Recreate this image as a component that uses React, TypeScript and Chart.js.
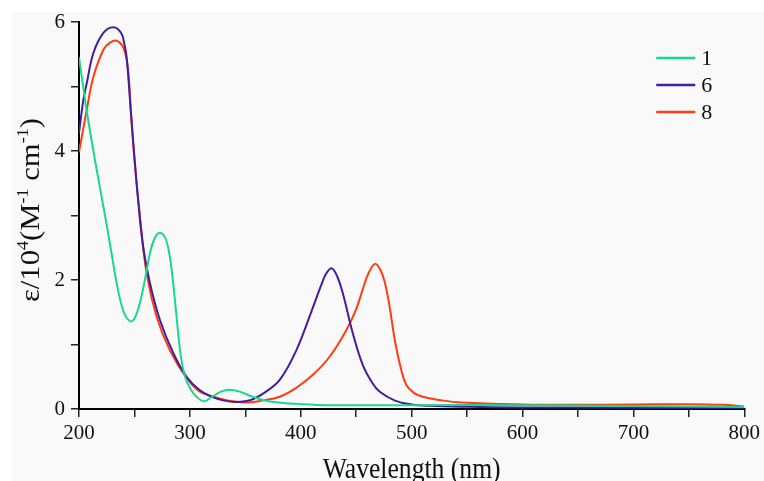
import React, { useEffect, useRef } from "react";
import { Chart, registerables } from "chart.js";

Chart.register(...registerables);

// Wavelength (nm) / epsilon (10^4 M^-1 cm^-1)
const wl1 = [200, 207, 213, 219, 225, 229, 234, 240, 246, 250, 255, 260, 264, 268, 272, 277, 281, 284, 288, 292, 296, 301, 306, 313, 320, 328, 336, 345, 355, 366, 380, 396, 425, 500, 600, 700, 800];
const eps1 = [5.45, 4.62, 4.0, 3.42, 2.85, 2.45, 1.95, 1.52, 1.36, 1.4, 1.65, 2.05, 2.42, 2.64, 2.73, 2.68, 2.45, 2.1, 1.43, 0.8, 0.48, 0.3, 0.19, 0.12, 0.19, 0.27, 0.3, 0.27, 0.2, 0.14, 0.1, 0.08, 0.06, 0.06, 0.06, 0.045, 0.03];

const wl6 = [200, 204, 207, 213, 222, 231, 238, 241, 243, 246, 249, 253, 258, 264, 273, 285, 297, 309, 320, 331, 342, 355, 367, 381, 396, 410, 418, 423, 428, 433, 438, 447, 456, 464, 471, 485, 500, 515, 550, 600, 700, 800];
const eps6 = [4.28, 4.8, 5.05, 5.52, 5.83, 5.92, 5.83, 5.65, 5.45, 4.79, 4.12, 3.3, 2.5, 1.95, 1.38, 0.87, 0.5, 0.29, 0.19, 0.13, 0.11, 0.14, 0.25, 0.45, 0.91, 1.53, 1.9, 2.1, 2.18, 2.05, 1.79, 1.17, 0.68, 0.42, 0.27, 0.13, 0.07, 0.05, 0.035, 0.025, 0.02, 0.02];

const wl8 = [200, 207, 213, 222, 228, 234, 240, 244, 247, 250, 255, 261, 270, 282, 297, 308, 321, 335, 351, 365, 381, 396, 411, 426, 441, 450, 456, 461, 467, 472, 476, 480, 485, 490, 495, 502, 510, 525, 545, 600, 650, 700, 750, 780, 800];
const eps8 = [3.98, 4.64, 5.15, 5.57, 5.68, 5.71, 5.6, 5.3, 4.55, 3.88, 2.98, 2.1, 1.43, 0.91, 0.48, 0.28, 0.19, 0.13, 0.1, 0.13, 0.19, 0.33, 0.53, 0.81, 1.22, 1.55, 1.86, 2.1, 2.25, 2.15, 1.95, 1.6, 1.05, 0.65, 0.38, 0.25, 0.19, 0.14, 0.1, 0.07, 0.065, 0.07, 0.075, 0.065, 0.04];

const seriesLabels = ["1", "6", "8"];
const seriesColors = ["#17d98c", "#3f1fa0", "#ff3c12"];

const xMin = 200;
const xMax = 800;
const xStep = 50;
const yMin = 0;
const yMax = 6;
const yStep = 1;

const FONT = "'Liberation Serif', 'Times New Roman', serif";

const pts = (xs: number[], ys: number[]) => xs.map((x, i) => ({ x, y: ys[i] }));

const titlesPlugin = {
  id: "customTitles",
  afterDraw(chart: any) {
    const { ctx, chartArea } = chart;
    ctx.save();
    ctx.fillStyle = "#111";
    // x title, fitted to the reference width
    ctx.font = `30px ${FONT}`;
    ctx.textAlign = "left";
    ctx.textBaseline = "alphabetic";
    const xt = "Wavelength (nm)";
    const xw = ctx.measureText(xt).width;
    const xTarget = 178;
    ctx.translate((chartArea.left + chartArea.right) / 2 - xTarget / 2, 478);
    ctx.scale(xTarget / xw, 1);
    ctx.fillText(xt, 0, 0);
    ctx.restore();

    // y title with superscripts
    ctx.save();
    ctx.fillStyle = "#111";
    const parts: [string, boolean][] = [
      ["ε/10", false],
      ["4", true],
      ["(M", false],
      ["-1", true],
      [" cm", false],
      ["-1", true],
      [")", false],
    ];
    const big = `27px ${FONT}`;
    const small = `16px ${FONT}`;
    let total = 0;
    for (const [t, sup] of parts) {
      ctx.font = sup ? small : big;
      total += ctx.measureText(t).width;
    }
    const yTarget = 184;
    ctx.translate(39, 210);
    ctx.rotate(-Math.PI / 2);
    ctx.scale(yTarget / total, 1);
    ctx.textAlign = "left";
    let x = -total / 2;
    for (const [t, sup] of parts) {
      ctx.font = sup ? small : big;
      ctx.fillText(t, x, sup ? -11 : 0);
      x += ctx.measureText(t).width;
    }
    ctx.restore();

    // legend
    ctx.save();
    ctx.font = `22px ${FONT}`;
    ctx.textAlign = "left";
    ctx.textBaseline = "middle";
    chart.data.datasets.forEach((ds: any, i: number) => {
      const y = chartArea.top + 36 + i * 27;
      const x0 = chartArea.right - 88;
      ctx.strokeStyle = ds.borderColor;
      ctx.lineWidth = 2.5;
      ctx.beginPath();
      ctx.moveTo(x0, y);
      ctx.lineTo(x0 + 39, y);
      ctx.stroke();
      ctx.fillStyle = "#111";
      ctx.fillText(ds.label, x0 + 45, y + 1);
    });
    ctx.restore();
  },
};

export default function App() {
  const ref = useRef<HTMLCanvasElement | null>(null);

  useEffect(() => {
    if (!ref.current) return;
    const datasets = [
      [wl1, eps1],
      [wl6, eps6],
      [wl8, eps8],
    ].map(([xs, ys], i) => ({
      label: seriesLabels[i],
      data: pts(xs, ys),
      borderColor: seriesColors[i],
      backgroundColor: seriesColors[i],
      borderWidth: 2,
      pointRadius: 0,
      tension: 0.4,
      fill: false,
    }));

    const chart = new Chart(ref.current, {
      type: "line",
      data: { datasets },
      plugins: [titlesPlugin],
      options: {
        animation: false,
        responsive: false,
        maintainAspectRatio: false,
        layout: { padding: { top: 22, right: 17, left: 0, bottom: 0 } },
        plugins: { legend: { display: false }, tooltip: { enabled: false } },
        scales: {
          x: {
            type: "linear",
            min: xMin,
            max: xMax,
            afterFit: (s: any) => {
              s.height = 72;
            },
            border: { display: true, color: "#000", width: 2 },
            grid: { drawOnChartArea: false, drawTicks: true, tickLength: 8, color: "#222", lineWidth: 1.5 },
            ticks: {
              stepSize: xStep,
              autoSkip: false,
              maxRotation: 0,
              padding: 4,
              color: "#111",
              font: { family: FONT, size: 21 },
              callback: (v: any) => (Number(v) % 100 === 0 ? String(v) : ""),
            },
          },
          y: {
            type: "linear",
            min: yMin,
            max: yMax,
            afterFit: (s: any) => {
              s.width = 79;
            },
            border: { display: true, color: "#000", width: 2 },
            grid: { drawOnChartArea: false, drawTicks: true, tickLength: 8, color: "#222", lineWidth: 1.5 },
            ticks: {
              stepSize: yStep,
              autoSkip: false,
              padding: 6,
              color: "#111",
              font: { family: FONT, size: 21 },
              callback: (v: any) => (Number(v) % 2 === 0 ? String(v) : ""),
            },
          },
        },
      },
    });
    return () => chart.destroy();
  }, []);

  return (
    <div style={{ position: "absolute", left: 0, top: 0, width: 764, height: 481, background: "#fff", overflow: "hidden" }}>
      <div style={{ position: "absolute", left: 12, top: 12, right: 0, bottom: 0, background: "#f9f9f9" }} />
      <canvas ref={ref} width={764} height={481} style={{ position: "absolute", left: 0, top: 0, width: 764, height: 481 }} />
    </div>
  );
}
